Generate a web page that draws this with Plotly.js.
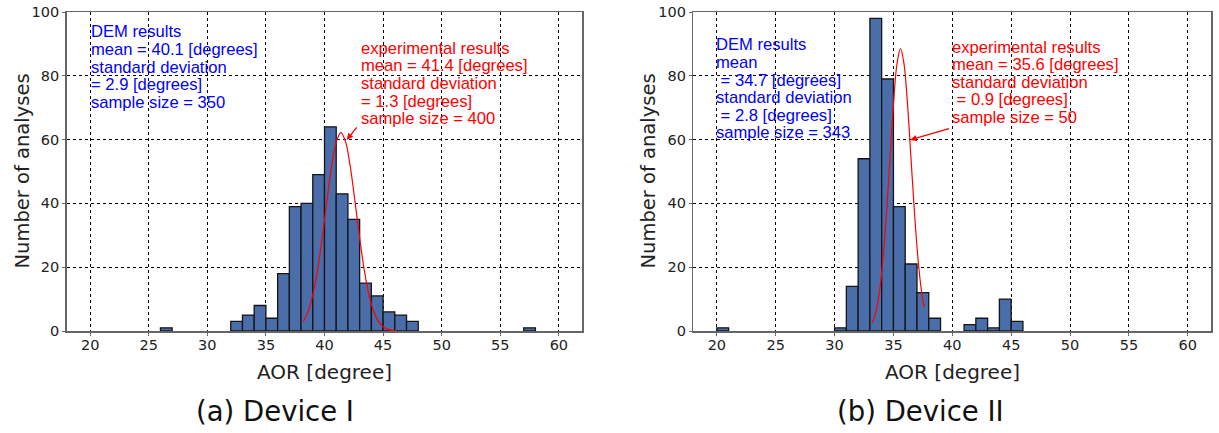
<!DOCTYPE html>
<html>
<head>
<meta charset="utf-8">
<script src="https://cdn.plot.ly/plotly-3.0.1.min.js"></script>
<style>html,body{margin:0;padding:0;background:#fff;}#chart{width:1219px;height:433px;}</style>
</head>
<body>
<div id="chart"></div>
<script>
// Device I (a)
const binLeftA = [26, 32, 33, 34, 35, 36, 37, 38, 39, 40, 41, 42, 43, 44, 45, 46, 47, 57];
const countsA  = [1, 3, 5, 8, 4, 18, 39, 40, 49, 64, 43, 35, 15, 11, 6, 5, 3, 1];
const curveXA = [38.2, 38.6, 39.0, 39.4, 39.8, 40.2, 40.6, 41.0, 41.4, 41.8, 42.2, 42.6, 43.0, 43.4, 43.8, 44.2, 44.6, 45.0, 45.5, 46.1];
const curveYA = [3.0, 6.1, 11.3, 19.0, 29.2, 40.6, 51.5, 59.3, 62.2, 59.3, 51.5, 40.6, 29.2, 19.0, 11.3, 6.1, 3.0, 1.35, 0.43, 0.09];
// Device II (b)
const binLeftB = [20, 30, 31, 32, 33, 34, 35, 36, 37, 38, 41, 42, 43, 44, 45];
const countsB  = [1, 1, 14, 54, 98, 79, 39, 21, 12, 4, 2, 4, 1, 10, 3];
const curveXB = [33.2, 33.5, 33.8, 34.1, 34.4, 34.7, 35.0, 35.3, 35.6, 35.9, 36.2, 36.5, 36.8, 37.1, 37.4, 37.6];
const curveYB = [2.5, 5.8, 12.0, 22.1, 36.4, 53.7, 70.9, 83.7, 88.5, 83.7, 70.9, 53.7, 36.4, 22.1, 12.0, 7.5];

const xTicks = [20, 25, 30, 35, 40, 45, 50, 55, 60];
const yTicks = [0, 20, 40, 60, 80, 100];

const demTextA = ["DEM results", "mean = 40.1 [degrees]", "standard deviation", "= 2.9 [degrees]", "sample size = 350"];
const expTextA = ["experimental results", "mean = 41.4 [degrees]", "standard deviation", "= 1.3 [degrees]", "sample size = 400"];
const demTextB = ["DEM results", "mean", " = 34.7 [degrees]", "standard deviation", " = 2.8 [degrees]", "sample size = 343"];
const expTextB = ["experimental results", "mean = 35.6 [degrees]", "standard deviation", " = 0.9 [degrees]", "sample size = 50"];

const panelTitles = ["(a) Device I", "(b) Device II"];
const xTitle = "AOR [degree]";
const yTitle = "Number of analyses";

const barColor = "#4a6ea9";
const TXT = "Liberation Sans, Arial, sans-serif";
const DV = "DejaVu Sans, sans-serif";
const W = 1219, H = 433;

function barTrace(x, y, xa, ya) {
  return {type: "bar", x: x, y: y, xaxis: xa, yaxis: ya, offset: 0, width: 1,
    marker: {color: barColor, line: {color: "#151515", width: 1.3}}, hoverinfo: "x+y"};
}
function curveTrace(x, y, xa, ya) {
  return {type: "scatter", mode: "lines", x: x, y: y, xaxis: xa, yaxis: ya,
    line: {color: "#ff0000", width: 1.2, shape: "spline"}};
}

const data = [
  barTrace(binLeftA, countsA, "x", "y"),
  curveTrace(curveXA, curveYA, "x", "y"),
  barTrace(binLeftB, countsB, "x2", "y2"),
  curveTrace(curveXB, curveYB, "x2", "y2")
];

function xAxis(domain, anchor) {
  return {domain: domain, anchor: anchor, range: [18, 62], tickvals: xTicks,
    showgrid: true, gridcolor: "#000", griddash: "dot", gridwidth: 1,
    showline: true, linecolor: "#666", linewidth: 1.5, mirror: true,
    ticks: "outside", ticklen: 3, tickcolor: "#666", ticklabelstandoff: -3,
    tickfont: {family: DV, size: 14.5, color: "#222"}, zeroline: false};
}
function yAxis(domain, anchor) {
  return {domain: domain, anchor: anchor, range: [0, 100], tickvals: yTicks,
    showgrid: true, gridcolor: "#000", griddash: "dot", gridwidth: 1,
    showline: true, linecolor: "#666", linewidth: 1.5, mirror: true,
    ticks: "outside", ticklen: 3, tickcolor: "#666",
    tickfont: {family: DV, size: 14.5, color: "#222"}, zeroline: false};
}

const annotations = [];
function addLines(lines, xa, ya, x0, y0, color) {
  const step = 5.52;
  lines.forEach((t, i) => {
    annotations.push({xref: xa, yref: ya, x: x0, y: y0 - i * step, text: t, showarrow: false,
      xanchor: "left", yanchor: "middle", font: {family: TXT, size: 16.6, color: color}});
  });
}
addLines(demTextA, "x", "y", 19.9, 93.8, "#0000ff");
addLines(expTextA, "x", "y", 42.95, 88.6, "#ff0000");
addLines(demTextB, "x2", "y2", 19.8, 89.7, "#0000ff");
addLines(expTextB, "x2", "y2", 39.8, 89.0, "#ff0000");

// arrows
annotations.push({xref: "x", yref: "y", axref: "x", ayref: "y", x: 41.9, y: 59.9, ax: 42.85, ay: 64.3,
  text: "", showarrow: true, arrowcolor: "#ff0000", arrowwidth: 1.3, arrowhead: 2, arrowsize: 1});
annotations.push({xref: "x2", yref: "y2", axref: "x2", ayref: "y2", x: 36.42, y: 59.9, ax: 39.85, ay: 63.6,
  text: "", showarrow: true, arrowcolor: "#ff0000", arrowwidth: 1.3, arrowhead: 2, arrowsize: 1});

// axis titles
[[324.5, 22], [952.3, 648]].forEach(([cx, yx]) => {
  annotations.push({xref: "paper", yref: "paper", x: cx / W, y: 1 - 372 / H, text: xTitle,
    showarrow: false, xanchor: "center", yanchor: "middle", font: {family: DV, size: 20, color: "#222"}});
  annotations.push({xref: "paper", yref: "paper", x: yx / W, y: 1 - 171.5 / H, text: yTitle, textangle: -90,
    showarrow: false, xanchor: "center", yanchor: "middle", font: {family: DV, size: 19.5, color: "#222"}});
});

// panel titles
annotations.push({xref: "paper", yref: "paper", x: 275 / W, y: 1 - 411 / H, text: panelTitles[0],
  showarrow: false, xanchor: "center", yanchor: "middle", font: {family: DV, size: 27.5, color: "#111"}});
annotations.push({xref: "paper", yref: "paper", x: 920 / W, y: 1 - 411 / H, text: panelTitles[1],
  showarrow: false, xanchor: "center", yanchor: "middle", font: {family: DV, size: 27.5, color: "#111"}});

const yDom = [1 - 331 / H, 1 - 12 / H];
const layout = {
  width: W, height: H,
  margin: {l: 0, r: 0, t: 0, b: 0},
  paper_bgcolor: "#fff", plot_bgcolor: "#fff",
  showlegend: false, bargap: 0,
  xaxis: xAxis([66.7 / W, 582.3 / W], "y"),
  yaxis: yAxis(yDom, "x"),
  xaxis2: xAxis([693.3 / W, 1211.3 / W], "y2"),
  yaxis2: yAxis(yDom, "x2"),
  annotations: annotations
};

Plotly.newPlot("chart", data, layout, {displayModeBar: false, staticPlot: true});
</script>
</body>
</html>
